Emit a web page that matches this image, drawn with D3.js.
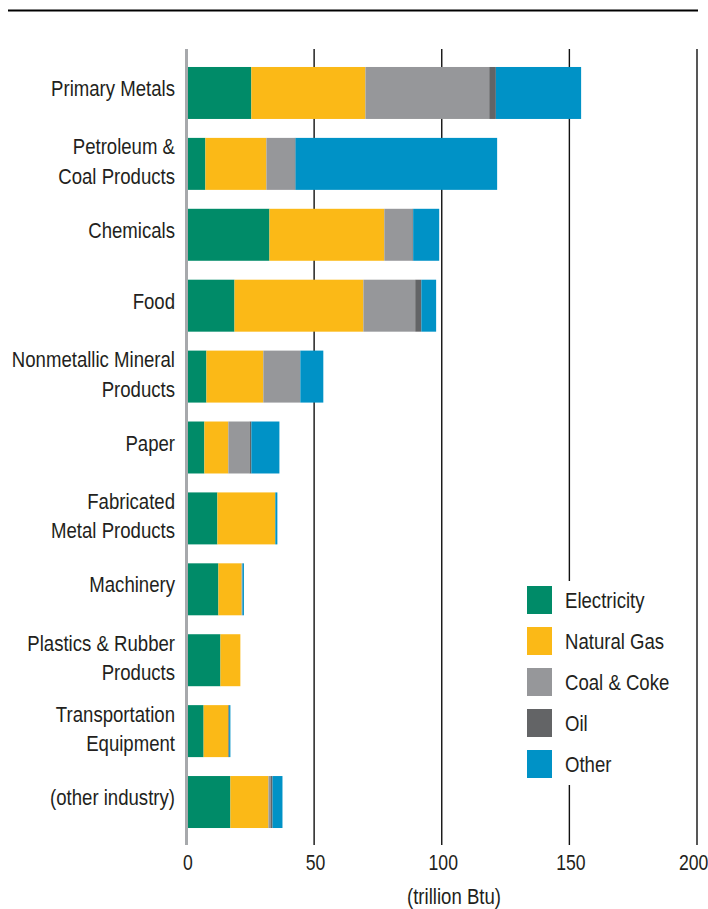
<!DOCTYPE html>
<html>
<head>
<meta charset="utf-8">
<script src="https://cdn.jsdelivr.net/npm/d3@7"></script>
<style>
  html, body { margin: 0; padding: 0; background: #fff; }
  svg { display: block; }
  text { font-family: "Liberation Sans", Arial, sans-serif; fill: #231f20; }
</style>
</head>
<body>
<svg id="chart" width="708" height="909"></svg>
<script>
// ---- data ----
const categories = [
  ["Primary Metals"],
  ["Petroleum &", "Coal Products"],
  ["Chemicals"],
  ["Food"],
  ["Nonmetallic Mineral", "Products"],
  ["Paper"],
  ["Fabricated", "Metal Products"],
  ["Machinery"],
  ["Plastics & Rubber", "Products"],
  ["Transportation", "Equipment"],
  ["(other industry)"]
];
const seriesNames = ["Electricity", "Natural Gas", "Coal & Coke", "Oil", "Other"];
const electricity = [25.4, 7.4, 32.5, 18.8, 7.8, 7.0, 12.1, 12.5, 13.3, 6.7, 17.2];
const naturalGas  = [44.7, 23.9, 45.0, 50.5, 22.3, 9.4, 22.7, 9.1, 7.8, 9.7, 14.9];
const coalCoke    = [48.5, 11.0, 11.0, 20.3, 14.5, 8.3, 0.0, 0.3, 0.0, 0.0, 0.8];
const oil         = [2.6, 0.4, 0.3, 2.4, 0.0, 0.7, 0.0, 0.0, 0.0, 0.3, 0.8];
const other       = [33.4, 79.0, 10.2, 5.8, 9.0, 11.0, 0.8, 0.6, 0.0, 0.5, 3.9];
const tickValues  = [0, 50, 100, 150, 200];
const axisTitle   = "(trillion Btu)";
const colors      = ["#008b68", "#fbb917", "#96979a", "#636466", "#0092c6"];

// ---- build table ----
const seriesValues = [electricity, naturalGas, coalCoke, oil, other];
const rows = categories.map((c, i) => {
  const r = { key: c.join(" "), lines: c };
  seriesNames.forEach((s, j) => r[s] = seriesValues[j][i]);
  return r;
});
const stacked = d3.stack().keys(seriesNames)(rows);

const svg = d3.select("#chart");
const FS = 22, SX = 0.845, SXT = 0.8;   // condensed look: horizontal squeeze of a regular sans

const x = d3.scaleLinear().domain([0, 200]).range([186.5, 697]);
const y = d3.scaleBand().domain(rows.map(r => r.key))
  .range([52.8, 842.2]).paddingInner(0.267).paddingOuter(0.2);
const color = d3.scaleOrdinal().domain(seriesNames).range(colors);

// top rule
svg.append("line").attr("x1", 8).attr("x2", 698).attr("y1", 10.5).attr("y2", 10.5)
  .attr("stroke", "#000").attr("stroke-width", 2);

// gridlines
svg.append("g").selectAll("line").data(tickValues.slice(1)).join("line")
  .attr("x1", d => x(d)).attr("x2", d => x(d))
  .attr("y1", 49).attr("y2", 845)
  .attr("stroke", "#111").attr("stroke-width", 1.4);

// bars
svg.append("g").selectAll("g").data(stacked).join("g")
  .attr("fill", d => color(d.key))
  .selectAll("rect").data(d => d).join("rect")
  .attr("x", d => x(d[0]))
  .attr("width", d => Math.max(0, x(d[1]) - x(d[0])))
  .attr("y", d => y(d.data.key))
  .attr("height", y.bandwidth());

// zero axis (grey)
svg.append("line").attr("x1", x(0)).attr("x2", x(0)).attr("y1", 49).attr("y2", 845)
  .attr("stroke", "#a7a9ac").attr("stroke-width", 3);

// x axis tick labels
const xAxis = d3.axisBottom(x).tickValues(tickValues).tickSize(0).tickPadding(0);
const gx = svg.append("g").attr("transform", "translate(1,853)").call(xAxis);
gx.select(".domain").remove();
gx.selectAll("text").attr("font-size", FS).attr("fill", "#231f20")
  .attr("font-family", null).attr("dy", null).attr("y", 17)
  .attr("x", d => d === 200 ? -6 : 0)
  .attr("transform", `scale(${SXT},1)`);

svg.append("g").attr("transform", `translate(454,904) scale(${SX},1)`)
  .append("text").attr("text-anchor", "middle")
  .attr("font-size", FS).text(axisTitle);

// category labels
const lab = svg.append("g").selectAll("g").data(rows).join("g")
  .attr("transform", d => `translate(175,${y(d.key) + y.bandwidth() / 2}) scale(${SX},1)`);
lab.each(function(d) {
  const t = d3.select(this).append("text").attr("text-anchor", "end").attr("font-size", FS);
  if (d.lines.length === 1) {
    t.append("tspan").attr("x", 0).attr("y", 3).text(d.lines[0]);
  } else {
    t.append("tspan").attr("x", 0).attr("y", -9.5).text(d.lines[0]);
    t.append("tspan").attr("x", 0).attr("y", 20).text(d.lines[1]);
  }
});

// legend
const lg = svg.append("g");
lg.append("rect").attr("x", 515).attr("y", 581).attr("width", 170).attr("height", 204).attr("fill", "#fff");
const item = lg.selectAll("g").data(seriesNames).join("g")
  .attr("transform", (d, i) => `translate(527,${586 + i * 41})`);
item.append("rect").attr("width", 25).attr("height", 28).attr("fill", d => color(d));
item.append("g").attr("transform", `translate(38,22) scale(${SX},1)`)
  .append("text").attr("font-size", FS).text(d => d);
</script>
</body>
</html>
